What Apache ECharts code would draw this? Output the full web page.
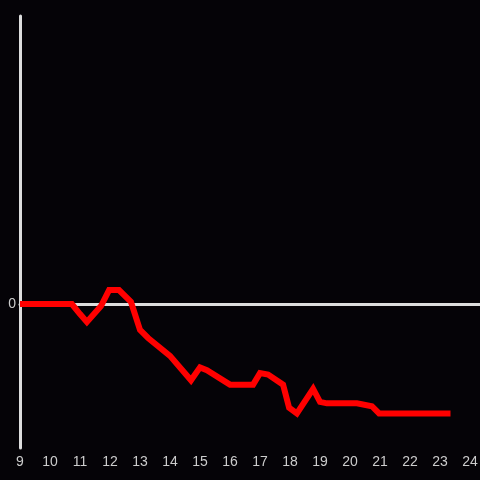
<!DOCTYPE html>
<html>
<head>
<meta charset="utf-8">
<script src="https://cdn.jsdelivr.net/npm/echarts@6/dist/echarts.min.js"></script>
<style>
  html, body { margin: 0; padding: 0; background: #050307; }
  #chart { width: 480px; height: 480px; }
</style>
</head>
<body>
<div id="chart"></div>
<script>
// hour of day, value
const hours = [9.0, 10.73, 11.0, 11.23, 11.7, 11.97, 12.3, 12.7, 13.0, 13.27, 14.0, 14.7,
  15.0, 15.23, 16.0, 16.77, 17.0, 17.27, 17.77, 17.97, 18.23, 18.77, 19.0, 19.23,
  20.23, 20.73, 20.97, 23.35];
const values = [0, 0, -0.07, -0.125, -0.014, 0.097, 0.097, 0.014, -0.18, -0.236, -0.36, -0.53,
  -0.44, -0.46, -0.56, -0.56, -0.48, -0.49, -0.56, -0.72, -0.76, -0.59, -0.68, -0.69,
  -0.69, -0.71, -0.76, -0.76];

const chart = echarts.init(document.getElementById("chart"));
chart.setOption({
  backgroundColor: "#050307",
  animation: false,
  grid: { left: 20, right: 0, top: 16, bottom: 32, outerBoundsMode: "none", containLabel: false },
  xAxis: {
    type: "value",
    min: 9,
    max: 24 + 1 / 3,
    interval: 1,
    axisLine: { onZero: true, lineStyle: { color: "#dddddd", width: 3 } },
    axisTick: { show: false },
    splitLine: { show: false },
    axisLabel: {
      color: "#cccccc",
      fontSize: 14,
      fontFamily: "Liberation Sans",
      margin: 7,
      formatter: (v) => (Number.isInteger(v) ? String(v) : ""),
    },
  },
  yAxis: {
    type: "value",
    min: -1,
    max: 2,
    interval: 1,
    axisLine: { show: true, onZero: false, lineStyle: { color: "#dddddd", width: 3 } },
    axisTick: { show: false },
    splitLine: { show: false },
    axisLabel: {
      color: "#cccccc",
      fontSize: 14,
      fontFamily: "Liberation Sans",
      margin: 4,
      formatter: (v) => (v === 0 ? "0" : ""),
    },
  },
  series: [{
    type: "line",
    data: hours.map((h, i) => [h, values[i]]),
    showSymbol: false,
    lineStyle: { color: "#ff0000", width: 6, cap: "butt", join: "miter" },
  }],
});
</script>
</body>
</html>
